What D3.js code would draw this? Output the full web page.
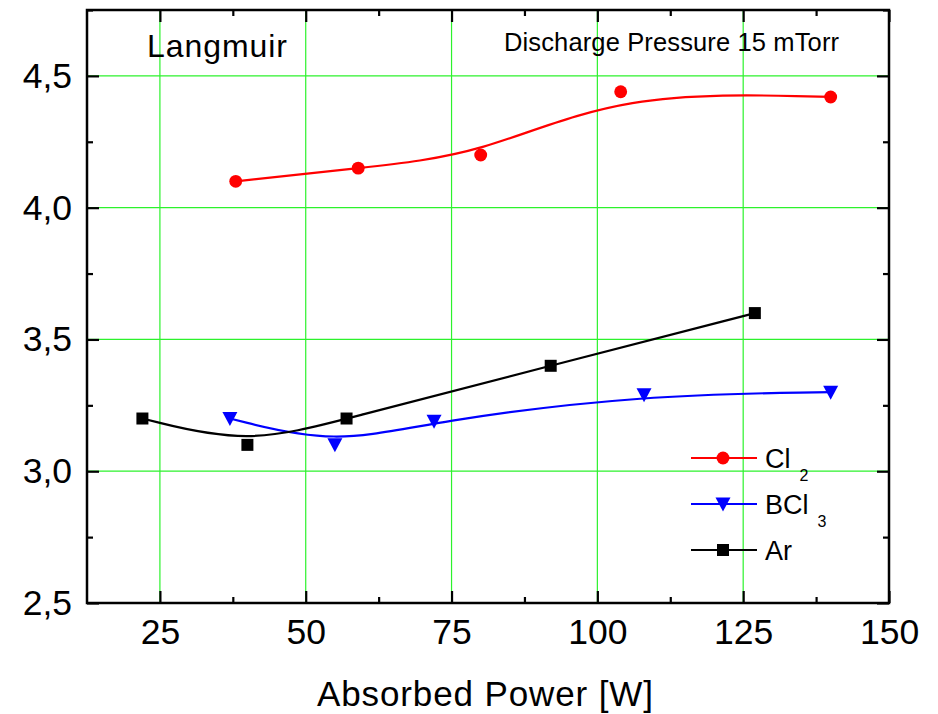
<!DOCTYPE html>
<html>
<head>
<meta charset="utf-8">
<script src="https://cdn.jsdelivr.net/npm/d3@7"></script>
<style>
  body { margin: 0; background: #fff; }
  text { font-family: "Liberation Sans", Arial, sans-serif; }
</style>
</head>
<body>
<div id="chart"></div>
<script>
const width = 938;
const height = 714;
const margin = {top: 10, right: 49, bottom: 111, left: 87};

// data
const cl2Power = [38, 59, 80, 104, 140];
const cl2Te = [4.10, 4.15, 4.20, 4.44, 4.42];
const bcl3Power = [37, 55, 72, 108, 140];
const bcl3Te = [3.20, 3.10, 3.19, 3.29, 3.30];
const arPower = [22, 40, 57, 92, 127];
const arTe = [3.20, 3.10, 3.20, 3.40, 3.60];

const xTicks = [25, 50, 75, 100, 125, 150];
const xMinor = [37.5, 62.5, 87.5, 112.5, 137.5];
const yTicks = [2.5, 3.0, 3.5, 4.0, 4.5];
const yMinor = [2.75, 3.25, 3.75, 4.25, 4.75];

const series = [
  {name: "Cl", sub: "2", x: cl2Power, y: cl2Te, color: "#ff0000", symbol: d3.symbolCircle},
  {name: "BCl", sub: "3", x: bcl3Power, y: bcl3Te, color: "#0000ff", symbol: "tri"},
  {name: "Ar", sub: "", x: arPower, y: arTe, color: "#000000", symbol: d3.symbolSquare}
];

const svg = d3.select("#chart")
  .append("svg")
  .attr("width", width)
  .attr("height", height);

const xScale = d3.scaleLinear()
  .domain([12.5, 150])
  .range([margin.left, width - margin.right]);

const yScale = d3.scaleLinear()
  .domain([2.5, 4.75])
  .range([height - margin.bottom, margin.top]);

const x0 = xScale.range()[0], x1 = xScale.range()[1];
const y0 = yScale.range()[0], y1 = yScale.range()[1];

// green grid
svg.append("g")
  .selectAll("line.gx")
  .data(xTicks.slice(0, -1))
  .enter().append("line")
  .attr("x1", d => xScale(d)).attr("x2", d => xScale(d))
  .attr("y1", y0).attr("y2", y1)
  .attr("stroke", "#2cf22c").attr("stroke-width", 1.2);

svg.append("g")
  .selectAll("line.gy")
  .data(yTicks.slice(1))
  .enter().append("line")
  .attr("x1", x0).attr("x2", x1)
  .attr("y1", d => yScale(d)).attr("y2", d => yScale(d))
  .attr("stroke", "#2cf22c").attr("stroke-width", 1.2);

// axes, ticks pointing inward
function styleAxis(g) {
  g.select(".domain").remove();
  g.selectAll(".tick line").attr("stroke", "#000").attr("stroke-width", 2.2);
  g.selectAll("text").attr("font-size", 35.5).attr("fill", "#000");
}

svg.append("g")
  .attr("transform", `translate(0,${y0})`)
  .call(d3.axisBottom(xScale).tickValues(xTicks).tickSize(-12).tickPadding(16))
  .call(styleAxis);
svg.append("g")
  .attr("transform", `translate(0,${y0})`)
  .call(d3.axisBottom(xScale).tickValues(xMinor).tickSize(-6).tickFormat(""))
  .call(styleAxis);
svg.append("g")
  .attr("transform", `translate(0,${y1})`)
  .call(d3.axisTop(xScale).tickValues(xTicks).tickSize(-12).tickFormat(""))
  .call(styleAxis);
svg.append("g")
  .attr("transform", `translate(0,${y1})`)
  .call(d3.axisTop(xScale).tickValues(xMinor).tickSize(-6).tickFormat(""))
  .call(styleAxis);

const commaFmt = d => d3.format(".1f")(d).replace(".", ",");
svg.append("g")
  .attr("transform", `translate(${x0},0)`)
  .call(d3.axisLeft(yScale).tickValues(yTicks).tickSize(-12).tickPadding(15).tickFormat(commaFmt))
  .call(styleAxis);
svg.append("g")
  .attr("transform", `translate(${x0},0)`)
  .call(d3.axisLeft(yScale).tickValues(yMinor).tickSize(-6).tickFormat(""))
  .call(styleAxis);
svg.append("g")
  .attr("transform", `translate(${x1},0)`)
  .call(d3.axisRight(yScale).tickValues(yTicks).tickSize(-12).tickFormat(""))
  .call(styleAxis);
svg.append("g")
  .attr("transform", `translate(${x1},0)`)
  .call(d3.axisRight(yScale).tickValues(yMinor).tickSize(-6).tickFormat(""))
  .call(styleAxis);

// frame
svg.append("rect")
  .attr("x", x0).attr("y", y1)
  .attr("width", x1 - x0).attr("height", y0 - y1)
  .attr("fill", "none").attr("stroke", "#000").attr("stroke-width", 2.5);

// curves and markers
const line = d3.line()
  .x(d => xScale(d[0]))
  .y(d => yScale(d[1]))
  .curve(d3.curveBasis);

const triPath = "M-7.5,-6.5L7.5,-6.5L0,7.5Z";
function markerPath(s) {
  if (s.symbol === "tri") return triPath;
  if (s.symbol === d3.symbolSquare) return d3.symbol(d3.symbolSquare, 144)();
  return d3.symbol(d3.symbolCircle, 130)();
}

series.forEach(s => {
  const pts = s.x.map((v, i) => [v, s.y[i]]);
  svg.append("path")
    .datum(pts)
    .attr("d", line)
    .attr("fill", "none")
    .attr("stroke", s.color)
    .attr("stroke-width", 2.2);
  svg.append("g")
    .selectAll("path")
    .data(pts)
    .enter().append("path")
    .attr("transform", d => `translate(${xScale(d[0])},${yScale(d[1])})`)
    .attr("d", markerPath(s))
    .attr("fill", s.color);
});

// legend
const legend = svg.append("g");
series.forEach((s, i) => {
  const ly = 458 + i * 46;
  legend.append("line")
    .attr("x1", 691).attr("x2", 757)
    .attr("y1", ly).attr("y2", ly)
    .attr("stroke", s.color).attr("stroke-width", 2.2);
  legend.append("path")
    .attr("transform", `translate(723,${ly})`)
    .attr("d", markerPath(s))
    .attr("fill", s.color);
  const t = legend.append("text")
    .attr("x", 765).attr("y", ly + 10)
    .attr("font-size", 27)
    .text(s.name);
  if (s.sub) {
    t.append("tspan")
      .attr("dx", 9).attr("dy", 13)
      .attr("font-size", 16)
      .text(s.sub);
  }
});

// annotations
svg.append("text")
  .attr("x", 147).attr("y", 57)
  .attr("font-size", 32)
  .attr("textLength", 140)
  .text("Langmuir");

svg.append("text")
  .attr("x", 504).attr("y", 51)
  .attr("font-size", 25.5)
  .attr("textLength", 335)
  .text("Discharge Pressure 15 mTorr");

svg.append("text")
  .attr("x", 317).attr("y", 706)
  .attr("font-size", 35)
  .attr("textLength", 336)
  .text("Absorbed Power [W]");
</script>
</body>
</html>
